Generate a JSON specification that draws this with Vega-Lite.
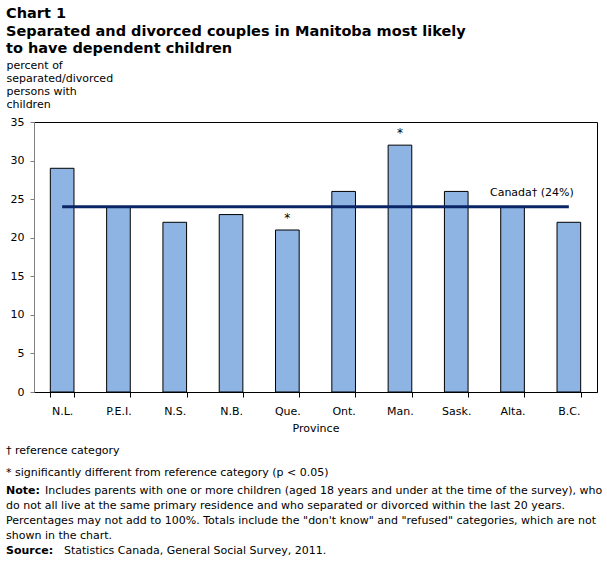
{
  "$schema": "https://vega.github.io/schema/vega-lite/v6.json",
  "padding": {"left": 5, "top": 6, "right": 5, "bottom": 5},
  "background": "white",
  "config": {
    "font": "DejaVu Sans",
    "view": {"stroke": null},
    "concat": {"spacing": 4},
    "axisY": {
      "values": [0, 5, 10, 15, 20, 25, 30, 35],
      "grid": false,
      "domainColor": "#808080",
      "tickColor": "#808080",
      "tickSize": 4,
      "labelPadding": 6,
      "labelFontSize": 11,
      "labelColor": "black",
      "titleAngle": 0,
      "titleAlign": "left",
      "titleBaseline": "alphabetic",
      "titleX": -28,
      "titleY": -54,
      "titleFontSize": 11,
      "titleFontWeight": "normal",
      "titleColor": "black",
      "titleLineHeight": 13.3
    }
  },
  "title": {
    "text": ["Chart 1", "Separated and divorced couples in Manitoba most likely", "to have dependent children"],
    "anchor": "start",
    "frame": "group",
    "dx": -28,
    "font": "DejaVu Sans",
    "fontSize": 14.5,
    "fontWeight": "bold",
    "lineHeight": 17.5,
    "color": "black",
    "offset": 2
  },
  "vconcat": [
    {
      "width": 563,
      "height": 270,
      "view": {"stroke": "black", "strokeWidth": 1},
      "data": {
        "values": [
          {"province": "N.L.", "percent": 29, "sig": ""},
          {"province": "P.E.I.", "percent": 24, "sig": ""},
          {"province": "N.S.", "percent": 22, "sig": ""},
          {"province": "N.B.", "percent": 23, "sig": ""},
          {"province": "Que.", "percent": 21, "sig": "*"},
          {"province": "Ont.", "percent": 26, "sig": ""},
          {"province": "Man.", "percent": 32, "sig": "*"},
          {"province": "Sask.", "percent": 26, "sig": ""},
          {"province": "Alta.", "percent": 24, "sig": ""},
          {"province": "B.C.", "percent": 22, "sig": ""}
        ]
      },
      "title": {
        "text": "† reference category",
        "subtitle": "* significantly different from reference category (p < 0.05)",
        "orient": "bottom",
        "anchor": "start",
        "frame": "group",
        "dx": -28,
        "offset": 12,
        "font": "DejaVu Sans",
        "fontSize": 11,
        "fontWeight": "normal",
        "color": "black",
        "subtitleFont": "DejaVu Sans",
        "subtitleFontSize": 11,
        "subtitleColor": "black",
        "subtitlePadding": 11
      },
      "encoding": {
        "x": {
          "field": "province",
          "type": "nominal",
          "sort": null,
          "scale": {"paddingInner": 0.58, "paddingOuter": 0.29},
          "axis": {
            "title": "Province",
            "labelAngle": 0,
            "tickBand": "extent",
            "domainColor": "black",
            "tickColor": "black",
            "tickSize": 5,
            "labelPadding": 8,
            "labelFontSize": 11,
            "labelColor": "black",
            "titleFontSize": 11,
            "titleFontWeight": "normal",
            "titleColor": "black",
            "titlePadding": 6
          }
        }
      },
      "layer": [
        {
          "mark": {"type": "bar", "fill": "#8DB4E2", "stroke": "black", "strokeWidth": 1},
          "encoding": {
            "y": {
              "field": "percent",
              "type": "quantitative",
              "scale": {"domain": [0, 35]},
              "title": ["percent of", "separated/divorced", "persons with", "children"]
            }
          }
        },
        {
          "mark": {"type": "text", "baseline": "bottom", "dy": -5, "fontSize": 12, "color": "black"},
          "encoding": {
            "y": {"field": "percent", "type": "quantitative"},
            "text": {"field": "sig"}
          }
        },
        {
          "data": {"values": [{"from": "N.L.", "to": "B.C.", "canada": 24, "label": "Canada† (24%)"}]},
          "layer": [
            {
              "mark": {"type": "rule", "color": "#0A2566", "strokeWidth": 3},
              "encoding": {
                "x": {"field": "from", "type": "nominal"},
                "x2": {"field": "to"},
                "y": {"field": "canada", "type": "quantitative"}
              }
            },
            {
              "mark": {"type": "text", "align": "right", "baseline": "bottom", "dx": 5, "dy": -9, "fontSize": 11, "color": "black"},
              "encoding": {
                "x": {"field": "to", "type": "nominal"},
                "y": {"field": "canada", "type": "quantitative"},
                "text": {"field": "label"}
              }
            }
          ]
        }
      ]
    },
    {
      "width": 563,
      "height": 76,
      "data": {
        "values": [
          {"line": 1, "lead": "Note:", "body": "Includes parents with one or more children (aged 18 years and under at the time of the survey), who"},
          {"line": 2, "lead": "", "body": "do not all live at the same primary residence and who separated or divorced within the last 20 years."},
          {"line": 3, "lead": "", "body": "Percentages may not add to 100%. Totals include the \"don't know\" and \"refused\" categories, which are not"},
          {"line": 4, "lead": "", "body": "shown in the chart."},
          {"line": 5, "lead": "Source:", "body": "Statistics Canada, General Social Survey, 2011."}
        ]
      },
      "encoding": {
        "y": {"field": "line", "type": "ordinal", "axis": null, "scale": {"paddingInner": 0, "paddingOuter": 0}}
      },
      "layer": [
        {
          "mark": {"type": "text", "align": "left", "baseline": "middle", "fontSize": 11, "fontWeight": "bold", "color": "black", "x": 0, "dx": -28},
          "encoding": {"text": {"field": "lead"}}
        },
        {
          "transform": [{"filter": "datum.lead === ''"}],
          "mark": {"type": "text", "align": "left", "baseline": "middle", "fontSize": 11, "color": "black", "x": 0, "dx": -28},
          "encoding": {"text": {"field": "body"}}
        },
        {
          "transform": [{"filter": "datum.lead === 'Note:'"}],
          "mark": {"type": "text", "align": "left", "baseline": "middle", "fontSize": 11, "color": "black", "x": 0, "dx": 11},
          "encoding": {"text": {"field": "body"}}
        },
        {
          "transform": [{"filter": "datum.lead === 'Source:'"}],
          "mark": {"type": "text", "align": "left", "baseline": "middle", "fontSize": 11, "color": "black", "x": 0, "dx": 30},
          "encoding": {"text": {"field": "body"}}
        }
      ]
    }
  ]
}
